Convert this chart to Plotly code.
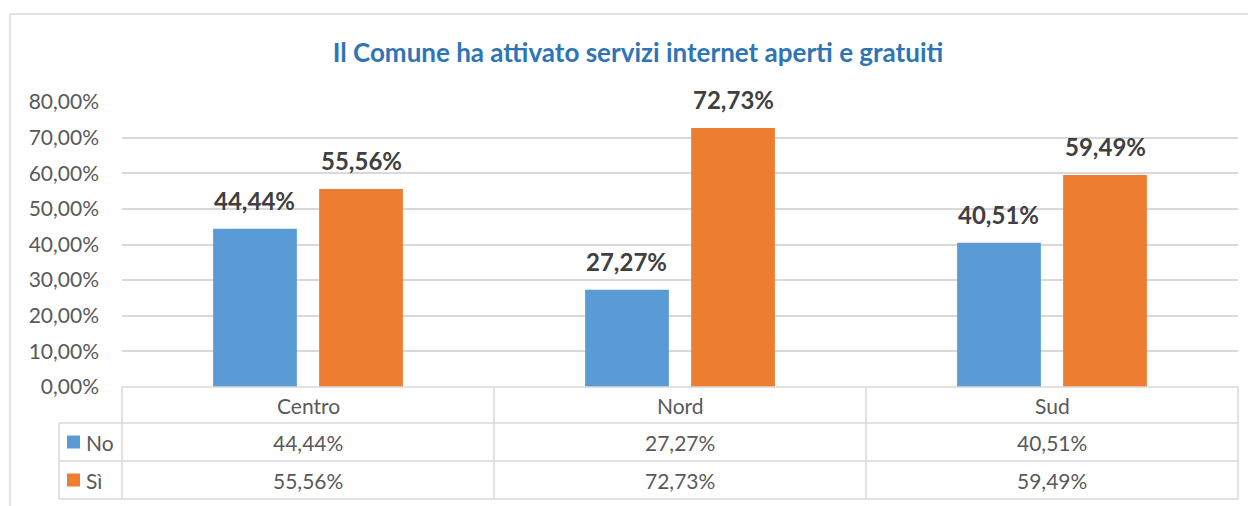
"""Il Comune ha attivato servizi internet aperti e gratuiti - bar chart with data table."""

import plotly.graph_objects as go

categories = ["Centro", "Nord", "Sud"]
series_names = ["No", "Sì"]
values_no = [0.4444, 0.2727, 0.4051]
values_si = [0.5556, 0.7273, 0.5949]
y_tick_values = [0, 0.1, 0.2, 0.3, 0.4, 0.5, 0.6, 0.7, 0.8]

COLORS = ["#5B9BD5", "#ED7D31"]
FONT = "Lato, 'Open Sans', sans-serif"
TEXT_GRAY = "#595959"
GRID = "#D9D9D9"
BARGAP = 0.43
BARGROUPGAP = 0.21

# the page body has an 8px margin, so the figure is drawn 8px in from the window edge
OFF = 8
W, H = 1256 - OFF, 506 - OFF
PLOT_LEFT, PLOT_RIGHT, PLOT_TOP, PLOT_BOTTOM = 122, 1238, 102, 387  # window pixels
MARGIN = {
    "l": PLOT_LEFT - OFF,
    "r": W - (PLOT_RIGHT - OFF),
    "t": PLOT_TOP - OFF,
    "b": H - (PLOT_BOTTOM - OFF),
}
PLOT_H = PLOT_BOTTOM - PLOT_TOP
PLOT_W = PLOT_RIGHT - PLOT_LEFT


def py(px):
    """Window pixel row -> paper y."""
    return (PLOT_BOTTOM - px) / PLOT_H


def px_x(px):
    """Window pixel column -> paper x."""
    return (px - PLOT_LEFT) / PLOT_W


def pct(v):
    return f"{v * 100:.2f}%".replace(".", ",")


fig = go.Figure()
for name, vals, color in zip(series_names, [values_no, values_si], COLORS):
    fig.add_trace(
        go.Bar(
            x=categories,
            y=vals,
            name=name,
            marker={"color": color, "line": {"width": 0}},
            hovertemplate="%{x}<br>" + name + ": %{y:.2%}<extra></extra>",
            showlegend=False,
        )
    )

annotations = []

# data labels above the bars (offset to each bar's slot within the group)
slot_px = PLOT_W / len(categories) * (1 - BARGAP) / len(series_names)
for s, vals in enumerate([values_no, values_si]):
    shift = (s - (len(series_names) - 1) / 2) * slot_px
    for cat, v in zip(categories, vals):
        annotations.append(dict(
            x=cat, y=v, xref="x", yref="y", xshift=shift, yshift=12,
            yanchor="bottom", text=f"<b>{pct(v)}</b>", showarrow=False,
            font={"size": 24, "color": "#404040", "family": FONT},
        ))

# data table below the plot
row_edges = [PLOT_BOTTOM, 423, 461, 499]
left_px = 59
line = {"color": GRID, "width": 1.5}
shapes = []
shapes.append(dict(type="line", xref="paper", yref="paper", x0=0, x1=1,
                   y0=py(row_edges[0]), y1=py(row_edges[0]), line=line))
for edge in row_edges[1:]:
    shapes.append(dict(type="line", xref="paper", yref="paper", x0=px_x(left_px), x1=1,
                       y0=py(edge), y1=py(edge), line=line))
for i in range(len(categories) + 1):
    xv = i / len(categories)
    shapes.append(dict(type="line", xref="paper", yref="paper", x0=xv, x1=xv,
                       y0=py(row_edges[0]), y1=py(row_edges[-1]), line=line))
shapes.append(dict(type="line", xref="paper", yref="paper", x0=px_x(left_px), x1=px_x(left_px),
                   y0=py(row_edges[1]), y1=py(row_edges[-1]), line=line))
# outer chart border
shapes.append(dict(type="rect", xref="paper", yref="paper", x0=px_x(10), x1=px_x(1300),
                   y0=py(560), y1=py(14), line={"color": GRID, "width": 1.5}, layer="below"))

cell_font = {"size": 21, "color": TEXT_GRAY, "family": FONT}
for cat in categories:
    annotations.append(dict(x=cat, xref="x", yref="paper",
                            y=py((row_edges[0] + row_edges[1]) / 2), yanchor="middle",
                            text=cat, showarrow=False, font=cell_font))
for r, (name, vals, color) in enumerate(zip(series_names, [values_no, values_si], COLORS)):
    ymid = py((row_edges[r + 1] + row_edges[r + 2]) / 2)
    for cat, v in zip(categories, vals):
        annotations.append(dict(x=cat, xref="x", yref="paper", y=ymid, yanchor="middle",
                                text=pct(v), showarrow=False, font=cell_font))
    shapes.append(dict(type="rect", xref="paper", yref="paper", x0=px_x(67), x1=px_x(80),
                       y0=ymid - 6.5 / PLOT_H, y1=ymid + 6.5 / PLOT_H,
                       fillcolor=color, line={"width": 0}))
    annotations.append(dict(x=px_x(84), xref="paper", yref="paper", y=ymid, yanchor="middle",
                            text=name, xanchor="left", showarrow=False, font=cell_font))

fig.update_layout(
    width=W,
    height=H,
    margin=MARGIN,
    paper_bgcolor="white",
    plot_bgcolor="white",
    separators=",.",
    barmode="group",
    bargap=BARGAP,
    bargroupgap=BARGROUPGAP,
    font={"family": FONT, "color": TEXT_GRAY},
    title={
        "text": "<b>Il Comune ha attivato servizi internet aperti e gratuiti</b>",
        "x": (638 - OFF) / W,
        "xref": "container",
        "xanchor": "center",
        "y": 1 - (53 - OFF) / H,
        "yanchor": "middle",
        "font": {"size": 26, "color": "#2E75B6", "family": FONT},
    },
    xaxis={
        "range": [-0.5, 2.5],
        "showticklabels": False,
        "showgrid": False,
        "zeroline": False,
        "showline": False,
        "fixedrange": True,
    },
    yaxis={
        "range": [0, 0.8],
        "tickvals": y_tick_values,
        "tickformat": ".2%",
        "tickfont": {"size": 21, "color": TEXT_GRAY, "family": FONT},
        "ticklabelstandoff": 22,
        "showgrid": True,
        "gridcolor": GRID,
        "gridwidth": 1.5,
        "zeroline": False,
        "showline": False,
        "fixedrange": True,
    },
    shapes=shapes,
    annotations=annotations,
)

fig.write_html("out.html")
